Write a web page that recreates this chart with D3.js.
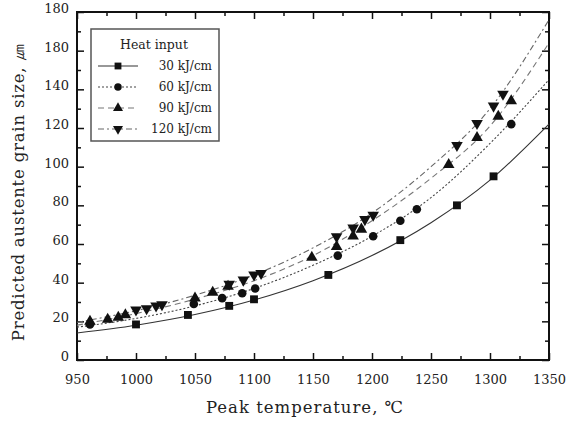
<!DOCTYPE html>
<html>
<head>
<meta charset="utf-8">
<script src="https://cdn.jsdelivr.net/npm/d3@7"></script>
<style>
  body { margin: 0; background: #fff; }
  text { font-family: "DejaVu Serif", "Liberation Serif", serif; fill: #222; }
</style>
</head>
<body>
<div id="chart"></div>
<script>
// Data
const xTicks = [950, 1000, 1050, 1100, 1150, 1200, 1250, 1300, 1350];
const yTicks = [0, 20, 40, 60, 80, 100, 120, 140, 160, 180];
const yTickLabels = ['0', '20', '40', '60', '80', '100', '120', '140', '180', '180'];

const seriesNames = ['30 kJ/cm', '60 kJ/cm', '90 kJ/cm', '120 kJ/cm'];

// measured points
const t30 = [1000, 1044, 1079, 1100, 1163, 1224, 1272, 1303];
const g30 = [18.4, 23.3, 28, 31.4, 44, 62, 80, 95];
const t60 = [961, 1049, 1073, 1090, 1101, 1171, 1201, 1224, 1238, 1318];
const g60 = [18.4, 29, 32, 34.5, 37, 54, 64, 72, 78, 122];
const t90 = [961, 976, 985, 991, 1050, 1065, 1078, 1149, 1170, 1184, 1191, 1265, 1289, 1307, 1318];
const g90 = [20, 21, 22, 23.3, 32, 35, 38, 53, 58.6, 64, 67.6, 101, 115, 126, 134];
const t120 = [1000, 1009, 1017, 1022, 1079, 1091, 1100, 1106, 1170, 1184, 1194, 1201, 1272, 1289, 1303, 1311];
const g120 = [25.9, 26.6, 28, 28.7, 39.3, 41.4, 44, 44.8, 63.8, 68.3, 72.7, 75, 111, 122.4, 131.4, 137.6];

// predicted curves
const curveT = [950, 1000, 1050, 1100, 1150, 1200, 1250, 1300, 1350];
const fit30 = [14, 18, 23.5, 31, 41, 54, 71, 93, 122];
const fit60 = [17, 21.5, 28, 37, 49, 64, 84, 112, 145];
const fit90 = [18, 24, 31.5, 41, 54, 72, 94, 121, 164];
const fit120 = [19.5, 25.5, 33.5, 44, 58, 76, 100, 130, 176];

const W = 567, H = 421;
const margin = { top: 12, right: 18, bottom: 61, left: 77 };
const width = W - margin.left - margin.right;
const height = H - margin.top - margin.bottom;

const svg = d3.select('#chart').append('svg')
  .attr('width', W)
  .attr('height', H);

const g = svg.append('g')
  .attr('transform', `translate(${margin.left},${margin.top})`);

const x = d3.scaleLinear().domain([950, 1350]).range([0, width]);
const y = d3.scaleLinear().domain([0, 180]).range([height, 0]);

const minorX = d3.range(975, 1350, 50);
const minorY = d3.range(10, 180, 20);

// axes, ticks pointing inward on all four sides
function styleAxis(sel) {
  sel.select('.domain').remove();
  sel.selectAll('line').attr('stroke', '#111').attr('stroke-width', 1.5);
  sel.selectAll('text').attr('font-size', 13).attr('fill', '#222')
    .style('font-family', '"DejaVu Serif", serif');
}

g.append('g')
  .attr('transform', `translate(0,${height})`)
  .call(d3.axisBottom(x).tickValues(xTicks).tickSizeInner(-7).tickPadding(15).tickFormat(d3.format('d')))
  .call(styleAxis);
g.append('g')
  .attr('transform', `translate(0,${height})`)
  .call(d3.axisBottom(x).tickValues(minorX).tickSizeInner(-4).tickFormat(''))
  .call(styleAxis);
g.append('g')
  .call(d3.axisTop(x).tickValues(xTicks).tickSizeInner(-7).tickFormat(''))
  .call(styleAxis);
g.append('g')
  .call(d3.axisTop(x).tickValues(minorX).tickSizeInner(-4).tickFormat(''))
  .call(styleAxis);

g.append('g')
  .call(d3.axisLeft(y).tickValues(yTicks).tickSizeInner(-7).tickPadding(8)
    .tickFormat((d, i) => yTickLabels[i]))
  .call(styleAxis)
  .selectAll('text').attr('dy', '0.05em');
g.append('g')
  .call(d3.axisLeft(y).tickValues(minorY).tickSizeInner(-4).tickFormat(''))
  .call(styleAxis);
g.append('g')
  .attr('transform', `translate(${width},0)`)
  .call(d3.axisRight(y).tickValues(yTicks).tickSizeInner(-7).tickFormat(''))
  .call(styleAxis);
g.append('g')
  .attr('transform', `translate(${width},0)`)
  .call(d3.axisRight(y).tickValues(minorY).tickSizeInner(-4).tickFormat(''))
  .call(styleAxis);

// frame
g.append('rect')
  .attr('width', width)
  .attr('height', height)
  .attr('fill', 'none')
  .attr('stroke', '#111')
  .attr('stroke-width', 2);

// series definitions
const series = [
  { name: seriesNames[0], t: t30, v: g30, fit: fit30, symbol: d3.symbolSquare, size: 62, rot: 0, stroke: '#333', dash: null },
  { name: seriesNames[1], t: t60, v: g60, fit: fit60, symbol: d3.symbolCircle, size: 58, rot: 0, stroke: '#444', dash: '2,2' },
  { name: seriesNames[2], t: t90, v: g90, fit: fit90, symbol: d3.symbolTriangle, size: 58, rot: 0, stroke: '#777', dash: '6,4' },
  { name: seriesNames[3], t: t120, v: g120, fit: fit120, symbol: d3.symbolTriangle, size: 58, rot: 180, stroke: '#666', dash: '6,3,2,3' }
];

const line = d3.line()
  .x(d => x(d[0]))
  .y(d => y(d[1]))
  .curve(d3.curveMonotoneX);

const plot = g.append('g');

series.forEach(s => {
  plot.append('path')
    .datum(curveT.map((t, i) => [t, s.fit[i]]))
    .attr('d', line)
    .attr('fill', 'none')
    .attr('stroke', s.stroke)
    .attr('stroke-width', 1.1)
    .attr('stroke-dasharray', s.dash);
});

series.forEach(s => {
  plot.selectAll(null)
    .data(s.t.map((t, i) => [t, s.v[i]]))
    .join('path')
    .attr('transform', d => `translate(${x(d[0])},${y(d[1])}) rotate(${s.rot})`)
    .attr('d', d3.symbol().type(s.symbol).size(s.size))
    .attr('fill', '#111');
});

// legend
const legend = svg.append('g').attr('transform', 'translate(91,29)');
legend.append('rect')
  .attr('width', 128)
  .attr('height', 112)
  .attr('fill', '#fff')
  .attr('stroke', '#555')
  .attr('stroke-width', 1.5);
legend.append('text')
  .attr('x', 63)
  .attr('y', 20)
  .attr('text-anchor', 'middle')
  .attr('font-size', 12.5)
  .text('Heat input');

series.forEach((s, i) => {
  const row = legend.append('g').attr('transform', `translate(0,${37 + i * 21})`);
  row.append('line')
    .attr('x1', 7).attr('x2', 47)
    .attr('stroke', s.stroke)
    .attr('stroke-width', 1.2)
    .attr('stroke-dasharray', s.dash);
  row.append('path')
    .attr('transform', `translate(27,0) rotate(${s.rot})`)
    .attr('d', d3.symbol().type(s.symbol).size(s.size * 0.75))
    .attr('fill', '#111');
  row.append('text')
    .attr('x', 121)
    .attr('y', 4)
    .attr('text-anchor', 'end')
    .attr('font-size', 12)
    .text(s.name);
});

// axis titles
svg.append('text')
  .attr('x', 305)
  .attr('y', 413)
  .attr('text-anchor', 'middle')
  .attr('font-size', 16.5)
  .attr('letter-spacing', 1)
  .text('Peak temperature, ℃');

svg.append('text')
  .attr('transform', 'translate(24,192) rotate(-90)')
  .attr('text-anchor', 'middle')
  .attr('font-size', 16.5)
  .attr('letter-spacing', 0.8)
  .text('Predicted austente grain size, ㎛');
</script>
</body>
</html>
